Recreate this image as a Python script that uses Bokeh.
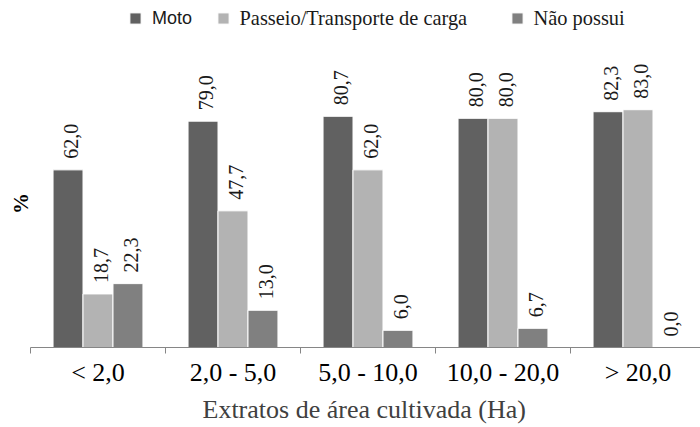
import numpy as np
from bokeh.plotting import figure
from bokeh.models import (Range1d, FixedTicker, LinearAxis, Legend, LegendItem, Label, Title)
from bokeh.core.properties import value
from bokeh.embed import file_html
from bokeh.resources import INLINE

categories = ["< 2,0", "2,0 - 5,0", "5,0 - 10,0", "10,0 - 20,0", "> 20,0"]
series_names = ["Moto", "Passeio/Transporte de carga", "Não possui"]
moto = [62.0, 79.0, 80.7, 80.0, 82.3]
passeio = [18.7, 47.7, 62.0, 80.0, 83.0]
nao_possui = [22.3, 13.0, 6.0, 6.7, 0.0]
series = [moto, passeio, nao_possui]
colors = ["#616161", "#b3b3b3", "#808080"]
x_title = "Extratos de área cultivada (Ha)"
y_title = "%"

# layout constants (pixels)
W, H = 700, 427
cat_px = 135.0
left_pad = 30.0
frame_h = 347.0
px_per_unit = 2.865
bar_w = 0.222

p = figure(width=W, height=H, output_backend="svg", toolbar_location=None,
           x_range=Range1d(-left_pad / cat_px, (W - left_pad) / cat_px),
           y_range=Range1d(0, frame_h / px_per_unit),
           x_axis_location=None, y_axis_location=None,
           min_border_left=0, min_border_right=0, min_border_top=0,
           min_border_bottom=int(H - frame_h))
p.outline_line_color = None
p.xgrid.visible = False
p.ygrid.visible = False
p.background_fill_color = "white"
p.border_fill_color = "white"

centers = np.arange(len(categories)) + 0.5
renderers = []
for i, (vals, color) in enumerate(zip(series, colors)):
    xs = centers + (i - 1) * bar_w
    r = p.vbar(x=xs, top=vals, width=bar_w, bottom=0, fill_color=color,
               line_color="white", line_width=1)
    renderers.append(r)
    p.text(x=xs, y=vals, text=[f"{v:.1f}".replace(".", ",") for v in vals],
           angle=np.pi / 2, text_align="left", text_baseline="middle",
           x_offset=3, y_offset=-11,
           text_font=value("Liberation Serif"), text_font_size="20px",
           text_color="#1a1a1a")

xaxis = LinearAxis(ticker=FixedTicker(ticks=list(centers), minor_ticks=list(range(len(categories) + 1))),
                   bounds=(0, len(categories)))
xaxis.major_label_overrides = {float(c): lab for c, lab in zip(centers, categories)}
xaxis.major_tick_out = 0
xaxis.major_tick_in = 0
xaxis.minor_tick_out = 6
xaxis.minor_tick_in = 0
xaxis.axis_line_color = "#868686"
xaxis.minor_tick_line_color = "#868686"
xaxis.major_label_standoff = 4
xaxis.major_label_text_font = "Liberation Serif"
xaxis.major_label_text_font_size = "26px"
xaxis.major_label_text_color = "#000000"
p.add_layout(xaxis, "below")

p.add_layout(Title(text=x_title, align="left", offset=202, standoff=6,
                   text_font="Liberation Serif", text_font_size="26px",
                   text_font_style="normal", text_color="#404040"), "below")

p.add_layout(Label(x=20.5, y=144, x_units="screen", y_units="screen", text=y_title,
                   angle=np.pi / 2, text_align="center", text_baseline="middle",
                   text_font="Liberation Serif", text_font_size="21px",
                   text_font_style="bold", text_color="#000000"))

def make_legend(renderer, label, loc, font, size):
    return Legend(items=[LegendItem(label=label, renderers=[renderer])], location=loc,
                  orientation="horizontal", glyph_width=14, glyph_height=14,
                  label_standoff=10, padding=0, margin=0, border_line_color=None,
                  background_fill_alpha=0, label_text_font=font,
                  label_text_font_size=size, label_text_color="#1a1a1a")

p.add_layout(make_legend(renderers[0], series_names[0], (128, frame_h - 28.5),
                         "Liberation Sans", "18px"), "center")
p.add_layout(make_legend(renderers[1], series_names[1], (215.5, frame_h - 29.8),
                         "Liberation Serif", "20.4px"), "center")
p.add_layout(make_legend(renderers[2], series_names[2], (509.5, frame_h - 29.8),
                         "Liberation Serif", "20.4px"), "center")

open("out.html", "w").write(file_html(p, INLINE))
